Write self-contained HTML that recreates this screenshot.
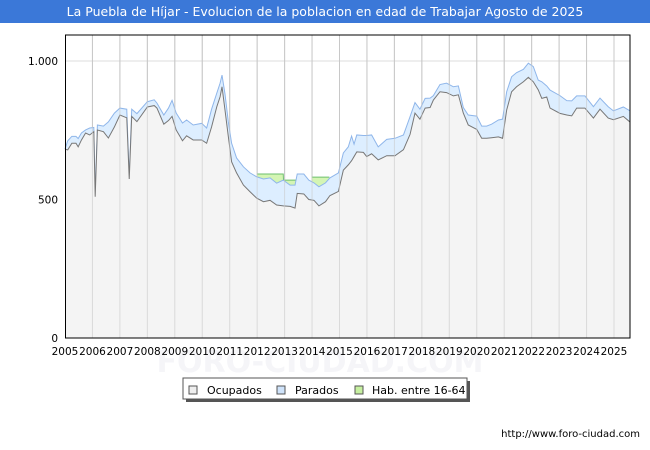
<!DOCTYPE html>
<html><head><meta charset="utf-8"><style>
body{margin:0;width:650px;height:450px;background:#fff;font-family:"DejaVu Sans","Liberation Sans",sans-serif;overflow:hidden}
</style></head><body>
<svg id="c" width="650" height="450" xmlns="http://www.w3.org/2000/svg" style="position:absolute;left:0;top:0" font-family="DejaVu Sans, Liberation Sans, sans-serif">
<rect x="0" y="0" width="650" height="450" fill="#fff"/>
<rect x="0" y="0" width="650" height="23" fill="#3b78d8"/>
<text x="325" y="16" text-anchor="middle" fill="#fff" font-size="12.5">La Puebla de Híjar - Evolucion de la poblacion en edad de Trabajar Agosto de 2025</text>
<g id="grid"></g>
<g id="series"></g>
<text x="320" y="372" text-anchor="middle" fill="#f5f5f8" font-size="30" font-weight="bold">FORO-CIUDAD.COM</text>
<g id="axes"></g>
<g>
<rect x="186" y="381" width="284" height="21" fill="#555"/>
<rect x="183" y="378" width="284" height="21" fill="#fff" stroke="#555" stroke-width="1"/>
<rect x="189" y="386" width="8" height="8" fill="#eeeeee" stroke="#555"/>
<text x="207" y="394" font-size="11" fill="#000">Ocupados</text>
<rect x="277" y="386" width="8" height="8" fill="#cfe3fa" stroke="#555"/>
<text x="295" y="394" font-size="11" fill="#000">Parados</text>
<rect x="355" y="386" width="8" height="8" fill="#c6f0a0" stroke="#555"/>
<text x="372" y="394" font-size="11" fill="#000">Hab. entre 16-64</text>
</g>
<text x="640" y="437" text-anchor="end" font-size="10" fill="#000">http://www.foro-ciudad.com</text>
</svg>
<script>
const dates=[2005.00,2005.10,2005.25,2005.40,2005.48,2005.60,2005.75,2005.90,2006.05,2006.10,2006.18,2006.40,2006.58,2006.80,2007.00,2007.25,2007.34,2007.43,2007.62,2008.00,2008.25,2008.35,2008.60,2008.77,2008.90,2009.05,2009.28,2009.43,2009.67,2009.98,2010.16,2010.34,2010.53,2010.65,2010.72,2010.83,2010.95,2011.07,2011.25,2011.50,2011.74,2011.98,2012.23,2012.47,2012.71,2012.95,2013.20,2013.38,2013.46,2013.70,2013.88,2014.07,2014.25,2014.49,2014.65,2014.96,2015.14,2015.32,2015.44,2015.53,2015.63,2015.87,2015.99,2016.17,2016.41,2016.72,2017.02,2017.33,2017.57,2017.75,2017.93,2018.12,2018.30,2018.42,2018.66,2018.90,2019.15,2019.33,2019.51,2019.69,2020.00,2020.18,2020.36,2020.54,2020.79,2020.94,2021.09,2021.27,2021.45,2021.70,2021.88,2022.06,2022.24,2022.37,2022.55,2022.67,2023.03,2023.28,2023.46,2023.64,2023.94,2024.25,2024.49,2024.79,2024.98,2025.34,2025.58];
const ocupados=[682,679,703,703,690,715,740,733,745,510,751,745,722,762,805,795,574,800,781,834,839,830,772,785,800,751,712,730,715,715,703,762,835,871,907,822,727,636,596,552,528,505,492,497,480,477,475,469,522,520,500,497,477,492,514,529,606,625,640,655,672,670,655,665,643,658,658,680,735,812,790,830,832,859,889,886,874,878,812,769,753,721,721,723,726,721,823,889,907,925,941,925,896,865,870,830,811,805,802,830,830,794,826,794,788,800,780];
const parados=[0,33,25,25,30,25,11,25,15,5,18,20,58,50,25,31,6,26,29,19,21,18,33,45,58,61,64,57,54,60,55,64,49,49,42,58,53,67,54,66,68,77,82,81,79,93,77,83,70,72,70,63,69,68,64,67,62,65,89,45,61,61,76,68,47,59,63,53,64,38,36,35,34,16,26,34,33,32,20,36,48,44,44,49,61,69,66,54,51,45,51,55,35,60,40,65,64,52,54,44,44,41,40,41,32,34,40];
const habDates=[2012.00,2012.95,2012.96,2013.44,null,2013.99,2014.63];
const hab=[592,592,570,570,null,581,581];
const yTicks=[0,500,1000];
const yTickLabels=["0","500","1.000"];
const xYears=[2005,2006,2007,2008,2009,2010,2011,2012,2013,2014,2015,2016,2017,2018,2019,2020,2021,2022,2023,2024,2025];
const NS="http://www.w3.org/2000/svg";
const L=65.5,R=630,T=35,B=338;
const X=d=>65+(d-2005)*27.45;
const Y=v=>338-v*0.277;
function el(tag,attrs,parent){const e=document.createElementNS(NS,tag);for(const k in attrs)e.setAttribute(k,attrs[k]);parent.appendChild(e);return e;}
const grid=document.getElementById('grid'),ser=document.getElementById('series'),ax=document.getElementById('axes');
const bg=el('rect',{x:L,y:T,width:R-L,height:B-T,fill:'#fff'},grid);


yTicks.forEach((t,i)=>{
 const g=el('line',{x1:L,x2:R,y1:Y(t),y2:Y(t),stroke:'#dddddd','stroke-width':1},grid);
 
 
 const tx=el('text',{x:58,y:Y(t)+4,'text-anchor':'end','font-size':10.5,fill:'#000'},ax);
 tx.textContent=yTickLabels[i];
 
 
});
xYears.forEach(yr=>{
 if(yr>2005){const g=el('line',{x1:X(yr),x2:X(yr),y1:T,y2:B,stroke:'#c8c8c8','stroke-width':1},grid);
 
 }
 const tx=el('text',{x:X(yr),y:355,'text-anchor':'middle','font-size':10.5,fill:'#000'},ax);
 tx.textContent=String(yr);
 
 
});
let segs=[[]];habDates.forEach((d,i)=>{if(d===null){segs.push([]);}else segs[segs.length-1].push([X(d),Y(hab[i])]);});
segs.forEach(s=>{if(!s.length)return;
 const pts=s.map(p=>p.join(',')).join(' ')+` ${s[s.length-1][0]},${B} ${s[0][0]},${B}`;
 const p=el('polygon',{points:pts,fill:'#d4f5b4',stroke:'none'},ser);
 
 
 const l=el('polyline',{points:s.map(p=>p.join(',')).join(' '),fill:'none',stroke:'#6cbf6c','stroke-width':1},ser);
 
 
});
const totPts=dates.map((d,i)=>X(d)+','+Y(ocupados[i]+parados[i])).join(' ');
const ocPts=dates.map((d,i)=>X(d)+','+Y(ocupados[i])).join(' ');
const x0=X(dates[0]),x1=X(dates[dates.length-1]);
const pa=el('polygon',{points:totPts+` ${x1},${B} ${x0},${B}`,fill:'#ddeeff'},ser);


const pl=el('polyline',{points:totPts,fill:'none',stroke:'#8fb6ea','stroke-width':1},ser);


const oa=el('polygon',{points:ocPts+` ${x1},${B} ${x0},${B}`,fill:'#f4f4f4'},ser);


const ol=el('polyline',{points:ocPts,fill:'none',stroke:'#777','stroke-width':1},ser);


xYears.forEach(yr=>{if(yr>2005){const g=el('line',{x1:X(yr),x2:X(yr),y1:T,y2:B,stroke:'#c8c8c8','stroke-width':1,'stroke-opacity':0.6},ser);
 
 }});
const fr=el('rect',{x:L,y:T,width:R-L,height:B-T,fill:'none',stroke:'#000','stroke-width':1},ax);


</script>
</body></html>
